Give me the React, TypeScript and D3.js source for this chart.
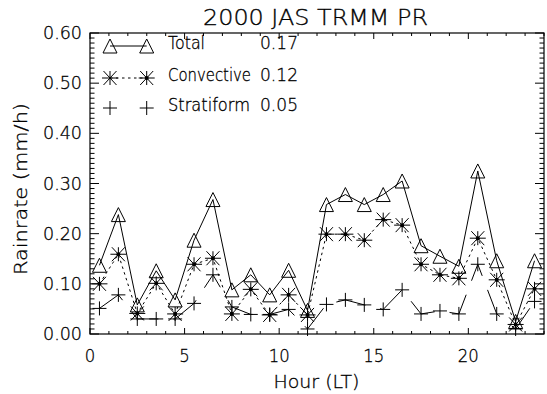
import React from "react";
import * as d3 from "d3";

const hours = [0.5, 1.5, 2.5, 3.5, 4.5, 5.5, 6.5, 7.5, 8.5, 9.5, 10.5, 11.5, 12.5, 13.5, 14.5, 15.5, 16.5, 17.5, 18.5, 19.5, 20.5, 21.5, 22.5, 23.5];
const total = [0.137, 0.238, 0.058, 0.126, 0.068, 0.187, 0.268, 0.088, 0.118, 0.078, 0.127, 0.047, 0.258, 0.278, 0.258, 0.278, 0.305, 0.176, 0.155, 0.135, 0.325, 0.146, 0.025, 0.146];
const convective = [0.100, 0.159, 0.041, 0.101, 0.040, 0.139, 0.151, 0.040, 0.089, 0.038, 0.078, 0.038, 0.199, 0.199, 0.187, 0.228, 0.217, 0.139, 0.118, 0.111, 0.191, 0.108, 0.019, 0.090];
const stratiform = [0.051, 0.078, 0.030, 0.030, 0.030, 0.061, 0.118, 0.054, 0.039, 0.039, 0.049, 0.010, 0.059, 0.068, 0.058, 0.049, 0.088, 0.040, 0.046, 0.040, 0.139, 0.040, 0.010, 0.065];
const legendNames = ["Total", "Convective", "Stratiform"];
const legendMeans = ["0.17", "0.12", "0.05"];
const xTicks = [0, 5, 10, 15, 20];
const yTicks = [0, 0.1, 0.2, 0.3, 0.4, 0.5, 0.6];

const FONT = "'DejaVu Sans', 'Liberation Sans', Arial, sans-serif";
const WEIGHT = 200;

const L = 90, R = 544, T = 33, B = 334;
const x = d3.scaleLinear().domain([0, 24]).range([L, R]);
const y = d3.scaleLinear().domain([0, 0.6]).range([B, T]);

function Triangle({ cx, cy }: { cx: number; cy: number }) {
  const s = 7;
  return <path d={`M${cx - s},${cy + s}L${cx},${cy - s}L${cx + s},${cy + s}Z`} fill="none" stroke="#000" strokeWidth={1} />;
}
function Asterisk({ cx, cy, dot }: { cx: number; cy: number; dot?: boolean }) {
  const h = 8, v = 7, dx = 6.5, dy = 7;
  return (
    <g stroke="#000" strokeWidth={1}>
      <line x1={cx - h} y1={cy} x2={cx + h} y2={cy} />
      <line x1={cx} y1={cy - v} x2={cx} y2={cy + v} />
      <line x1={cx - dx} y1={cy - dy} x2={cx + dx} y2={cy + dy} />
      <line x1={cx - dx} y1={cy + dy} x2={cx + dx} y2={cy - dy} />
      {dot ? <circle cx={cx} cy={cy} r={2} fill="#000" stroke="none" /> : null}
    </g>
  );
}
function Plus({ cx, cy }: { cx: number; cy: number }) {
  const s = 7;
  return (
    <g stroke="#000" strokeWidth={1}>
      <line x1={cx - s} y1={cy} x2={cx + s} y2={cy} />
      <line x1={cx} y1={cy - s} x2={cx} y2={cy + s} />
    </g>
  );
}

export default function App() {
  const line = d3.line<number>().x((_, i) => x(hours[i])).y((d) => y(d));
  const xMinor = d3.range(0, 25, 1);
  const yMinor = d3.range(0, 61, 1).map((v) => v / 100);
  const legendY = [46, 78, 108];
  const legendBase = [48.5, 81, 111];
  const nameLen = [37, 83, 82];
  const textStyle = { stroke: "#000", strokeWidth: 0.3 };

  return (
    <svg width={547} height={394} style={{ position: "absolute", left: 0, top: 0, background: "#fff" }} fontFamily={FONT} fontWeight={WEIGHT}>
      <rect x={0} y={0} width={547} height={394} fill="#fff" />
      <g {...textStyle}>
        <text x={203} y={25} fontSize={21} textLength={225} lengthAdjust="spacingAndGlyphs">2000 JAS TRMM PR</text>
      </g>

      {/* ticks */}
      <g stroke="#000" strokeWidth={1}>
        {xMinor.map((h) => {
          const len = h % 5 === 0 ? 6 : 3;
          return (
            <g key={"xt" + h}>
              <line x1={x(h)} y1={B} x2={x(h)} y2={B - len} />
              <line x1={x(h)} y1={T} x2={x(h)} y2={T + len} />
            </g>
          );
        })}
        {yMinor.map((v, i) => {
          const len = i % 10 === 0 ? 9 : 4.5;
          return (
            <g key={"yt" + i}>
              <line x1={L} y1={y(v)} x2={L + len} y2={y(v)} />
              <line x1={R} y1={y(v)} x2={R - len} y2={y(v)} />
            </g>
          );
        })}
      </g>
      <rect x={L} y={T} width={R - L} height={B - T} fill="none" stroke="#000" strokeWidth={1.2} />

      {/* tick labels */}
      <g {...textStyle}>
        {yTicks.map((v) => (
          <text key={"yl" + v} x={82} y={y(v) + 6} fontSize={17} textAnchor="end" textLength={39} lengthAdjust="spacingAndGlyphs">
            {v.toFixed(2)}
          </text>
        ))}
        {xTicks.map((h) => (
          <text key={"xl" + h} x={x(h)} y={362} fontSize={17} textAnchor="middle" textLength={String(h).length * 10.5} lengthAdjust="spacingAndGlyphs">
            {h}
          </text>
        ))}
        <text x={316.5} y={388} fontSize={18} textAnchor="middle" textLength={86} lengthAdjust="spacingAndGlyphs">Hour (LT)</text>
        <text transform="translate(27,189) rotate(-90)" fontSize={18.5} textAnchor="middle" textLength={172} lengthAdjust="spacingAndGlyphs">Rainrate (mm/h)</text>
      </g>

      {/* series lines */}
      <path d={line(total) || ""} fill="none" stroke="#000" strokeWidth={1} />
      <path d={line(convective) || ""} fill="none" stroke="#000" strokeWidth={1} strokeDasharray="2.5,3.5" />
      <path d={line(stratiform) || ""} fill="none" stroke="#000" strokeWidth={1} strokeDasharray="30,15" />

      {/* markers */}
      {total.map((v, i) => <Triangle key={"t" + i} cx={x(hours[i])} cy={y(v)} />)}
      {convective.map((v, i) => <Asterisk key={"c" + i} cx={x(hours[i])} cy={y(v)} dot />)}
      {stratiform.map((v, i) => <Plus key={"s" + i} cx={x(hours[i])} cy={y(v)} />)}

      {/* legend */}
      <line x1={110} y1={legendY[0]} x2={146.7} y2={legendY[0]} stroke="#000" strokeWidth={1} />
      <Triangle cx={110} cy={legendY[0]} />
      <Triangle cx={146.7} cy={legendY[0]} />
      <line x1={110} y1={legendY[1]} x2={146.7} y2={legendY[1]} stroke="#000" strokeWidth={1} strokeDasharray="2.5,3.5" />
      <Asterisk cx={110} cy={legendY[1]} />
      <Asterisk cx={146.7} cy={legendY[1]} dot />
      <Plus cx={110} cy={legendY[2]} />
      <Plus cx={146.7} cy={legendY[2]} />
      <g {...textStyle}>
        {legendNames.map((n, i) => (
          <text key={"ln" + i} transform={`translate(168,${legendBase[i]}) scale(1,1.13)`} x={0} y={0} fontSize={15.5} textLength={nameLen[i]} lengthAdjust="spacingAndGlyphs">{n}</text>
        ))}
        {legendMeans.map((m, i) => (
          <text key={"lm" + i} x={260} y={legendBase[i]} fontSize={17} textLength={38} lengthAdjust="spacingAndGlyphs">{m}</text>
        ))}
      </g>
    </svg>
  );
}
